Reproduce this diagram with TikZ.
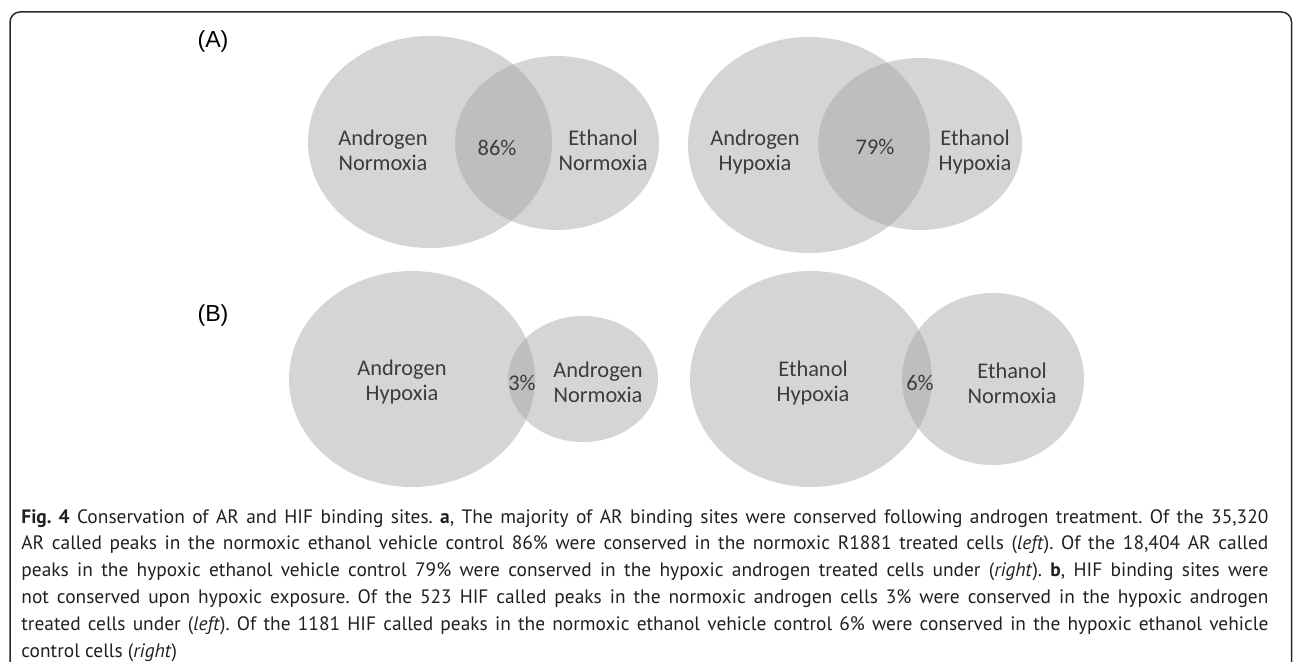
\documentclass[tikz,border=0pt]{standalone}
\usepackage{fontspec}
\usepackage{tikz}
\usetikzlibrary{positioning,shapes.geometric}
\setmainfont{PT Sans}
\newfontfamily\vennfamily{Carlito}
\newfontfamily\panelfamily{Liberation Sans}
\newfontfamily\capfamily{PT Sans}
\definecolor{venngray}{gray}{0.64}
\definecolor{labelgray}{HTML}{3C3C3C}
\definecolor{captext}{HTML}{231F20}
\definecolor{framegray}{HTML}{2A2A2A}
\newcommand{\vennfont}{\vennfamily\fontsize{11.2}{12.5}\selectfont}
\newcommand{\panelfont}{\panelfamily\fontsize{11.6}{13}\selectfont}
\newcommand{\figcapfont}{\capfamily\fontsize{9.7}{13.4}\selectfont\frenchspacing\tolerance=9999 \hyphenpenalty=10000 }

\begin{document}
\begin{tikzpicture}[
    x=0.5pt, y=-0.5pt,
    vennset/.style={ellipse, fill=venngray, fill opacity=0.46, draw=none, inner sep=0pt},
    vennlabel/.style={font=\vennfont, text=labelgray, align=center, inner sep=0pt},
    panellabel/.style={font=\panelfont, text=black, inner sep=0pt}
]
\useasboundingbox (0,0) rectangle (1293,662);
\draw[framegray, line width=0.75pt, rounded corners=5pt] (10,680) |- (1291.5,12) -- (1291.5,680);

\node[panellabel] (panelA) at (213,42) {(A)};
\node[panellabel] (panelB) at (213,315) {(B)};

\node[vennset, minimum width=122pt, minimum height=106pt] (andNorm) at (430,142) {};
\node[vennset, minimum width=102pt, minimum height=87pt] (ethNorm) at (557,143) {};
\node[vennlabel] (andNormTxt) at (383,150) {Androgen\\Normoxia};
\node[vennlabel] (ovNorm) at (497,148) {86\%};
\node[vennlabel] (ethNormTxt) at (603,150) {Ethanol\\Normoxia};

\node[vennset, minimum width=121pt, minimum height=108pt] (andHyp) at (809,145) {};
\node[vennset, minimum width=102pt, minimum height=86pt] (ethHyp) at (920,144) {};
\node[vennlabel] (andHypTxt) at (755,152) {Androgen\\Hypoxia};
\node[vennlabel] (ovHyp) at (875,147) {79\%};
\node[vennlabel] (ethHypTxt) at (975,152) {Ethanol\\Hypoxia};

\node[vennset, minimum width=123pt, minimum height=108pt] (andHypB) at (412,379) {};
\node[vennset, minimum width=75pt, minimum height=63pt] (andNormB) at (583,379) {};
\node[vennlabel] (andHypBTxt) at (402,382) {Androgen\\Hypoxia};
\node[vennlabel] (ovAnd) at (522,383) {3\%};
\node[vennlabel] (andNormBTxt) at (598,382) {Androgen\\Normoxia};

\node[vennset, minimum width=121pt, minimum height=108pt] (ethHypB) at (811,379) {};
\node[vennset, minimum width=91pt, minimum height=86pt] (ethNormB) at (993,379) {};
\node[vennlabel] (ethHypBTxt) at (813,383) {Ethanol\\Hypoxia};
\node[vennlabel] (ovEth) at (920,383) {6\%};
\node[vennlabel] (ethNormBTxt) at (1012,383) {Ethanol\\Normoxia};

\node[anchor=base west, inner sep=0pt, text width=623.5pt, align=justify, font=\figcapfont, text=captext] (caption) at (21,523) {%
\textbf{Fig. 4} Conservation of AR and HIF binding sites. \textbf{a}, The majority of AR binding sites were conserved following androgen treatment. Of the 35,320\linebreak
AR called peaks in the normoxic ethanol vehicle control 86\% were conserved in the normoxic R1881 treated cells (\textit{left}). Of the 18,404 AR called\linebreak
peaks in the hypoxic ethanol vehicle control 79\% were conserved in the hypoxic androgen treated cells under (\textit{right}). \textbf{b}, HIF binding sites were\linebreak
not conserved upon hypoxic exposure. Of the 523 HIF called peaks in the normoxic androgen cells 3\% were conserved in the hypoxic androgen\linebreak
treated cells under (\textit{left}). Of the 1181 HIF called peaks in the normoxic ethanol vehicle control 6\% were conserved in the hypoxic ethanol vehicle\linebreak
control cells (\textit{right})};
\end{tikzpicture}
\end{document}
